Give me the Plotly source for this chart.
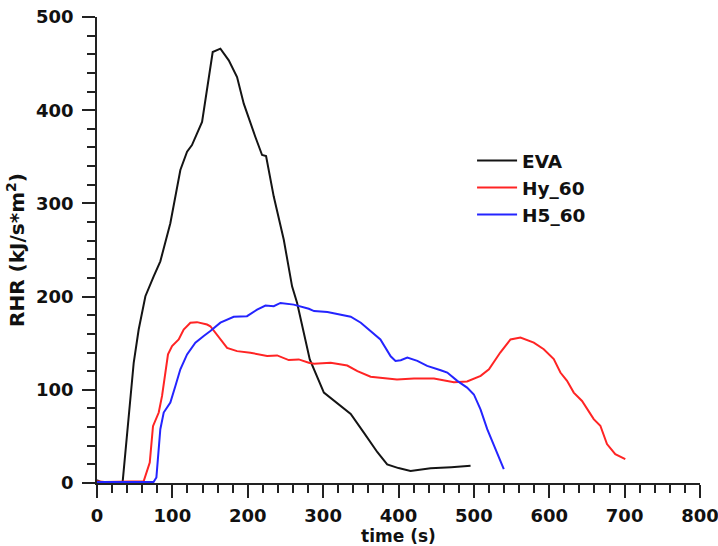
import plotly.graph_objects as go

# Rate of heat release curves (time in s, RHR in kJ/s*m^2)
eva_t = [0, 5, 34, 48.7, 55.3, 64.2, 75.2, 84, 97.3, 110.6, 119.5, 126, 139.4, 146,
         153.5, 163.7, 174.8, 185.8, 194.7, 210, 219, 224.3, 234.5, 247.8, 258.8,
         265.5, 282.3, 301, 323, 336.6, 354, 372, 385, 400, 416, 442.6, 470, 495.6]
eva_rhr = [3, 1, 1, 129, 164.7, 200.4, 221.7, 237.8, 278.8, 335.8, 355.4, 362.6,
           387.5, 425, 462.4, 466, 453.5, 435.6, 407, 371.5, 351.9, 350.8, 307.3,
           261, 211, 193.2, 132.6, 97, 83, 74, 54, 33, 20, 16, 13, 15.7, 17, 18.6]

hy_t = [0, 10, 62, 64.2, 70, 74.3, 81.9, 86.3, 94.2, 99.6, 108.4, 115, 123.9,
        132.7, 146, 150.4, 159.3, 172.6, 185.8, 203.5, 225.7, 239, 254.4, 267.7,
        281, 288, 310, 332, 345.5, 363, 398, 420.5, 447, 473.5, 491, 509, 520, 535,
        548.6, 561.8, 579.5, 592.7, 606, 614.8, 623.6, 632.5, 643.5, 659, 667.8,
        676.6, 687.6, 700.9]
hy_rhr = [2, 1, 2, 7.8, 22, 61, 75.6, 93.4, 138, 147, 154, 164.7, 171.9, 172.6,
          170, 168.2, 159.3, 145, 141.5, 139.8, 136.2, 136.9, 131.9, 132.6, 129,
          128, 129, 126, 120, 114, 111, 112, 112, 108, 109, 115, 122, 140, 154, 156,
          150.6, 143.5, 133, 118.5, 109.6, 97, 88, 68.5, 61.4, 41.8, 31, 25.7]

h5_t = [0, 75, 78.8, 84, 88.5, 97.3, 104, 110.6, 119.5, 130.5, 141.6, 150.4, 163.7,
        181.4, 199, 212.4, 223.5, 234.5, 243.4, 261, 281, 288, 305.7, 319, 336.6,
        350, 363, 376, 389.6, 396, 403, 411.7, 425, 438, 456, 464.7, 478, 491, 500,
        508.8, 517.7, 526.5, 539.7]
h5_rhr = [1, 1, 6, 57.7, 75.6, 86.3, 104, 122, 138, 150.6, 157.8, 163, 172, 178.3,
          179, 186, 190.4, 189.7, 193.2, 191.4, 187, 184.5, 183.4, 181, 178.4, 172,
          163, 154, 136, 131, 131.7, 134.5, 131, 125.6, 121, 118.5, 109.6, 102.4,
          95, 79, 57.8, 40, 15]

series = [
    ("EVA", eva_t, eva_rhr, "#141414"),
    ("Hy_60", hy_t, hy_rhr, "#ff2424"),
    ("H5_60", h5_t, h5_rhr, "#2424ff"),
]

x_ticks = [0, 100, 200, 300, 400, 500, 600, 700, 800]
y_ticks = [0, 100, 200, 300, 400, 500]

FONT = "DejaVu Sans"
INK = "#111111"
AXIS = "#222222"

fig = go.Figure()
for name, t, r, color in series:
    fig.add_trace(go.Scatter(
        x=t, y=r, mode="lines", name=name, legendgroup=name,
        line=dict(color=color, width=2),
    ))

axis_common = dict(
    automargin=False, ticklabeloverflow="allow",
    showgrid=False, zeroline=False, showline=True,
    linecolor=AXIS, linewidth=1.5,
    ticks="outside", ticklen=13, tickwidth=1.5, tickcolor=AXIS,
    tickfont=dict(family=FONT, size=18, color=INK, weight="bold"),
    minor=dict(ticks="outside", ticklen=8, tickwidth=1.5,
               tickcolor=AXIS, dtick=20, showgrid=False),
)

fig.update_xaxes(
    range=[0, 800], tickmode="array", tickvals=x_ticks,
    ticktext=[str(v) for v in x_ticks], ticklabelstandoff=3,
    title=dict(text="time (s)", standoff=2,
               font=dict(family=FONT, size=17, color=INK, weight="bold")),
    **axis_common,
)
fig.update_yaxes(
    range=[0, 500], tickmode="array", tickvals=y_ticks,
    ticktext=[str(v) for v in y_ticks], ticklabelstandoff=5,
    title=dict(text="RHR (kJ/s*m<sup>2</sup>)", standoff=6,
               font=dict(family=FONT, size=20, color=INK, weight="bold")),
    **axis_common,
)

fig.update_layout(
    width=718, height=546,
    margin=dict(l=97, r=18, t=17, b=63),
    paper_bgcolor="white", plot_bgcolor="white",
    font=dict(family=FONT, size=17, color=INK),
    legend=dict(
        x=0.622, y=0.732, xanchor="left", yanchor="top",
        bgcolor="rgba(0,0,0,0)", tracegroupgap=0, itemwidth=40,
        font=dict(family=FONT, size=18.5, color=INK, weight="bold"),
    ),
)

fig.write_html("out.html")
